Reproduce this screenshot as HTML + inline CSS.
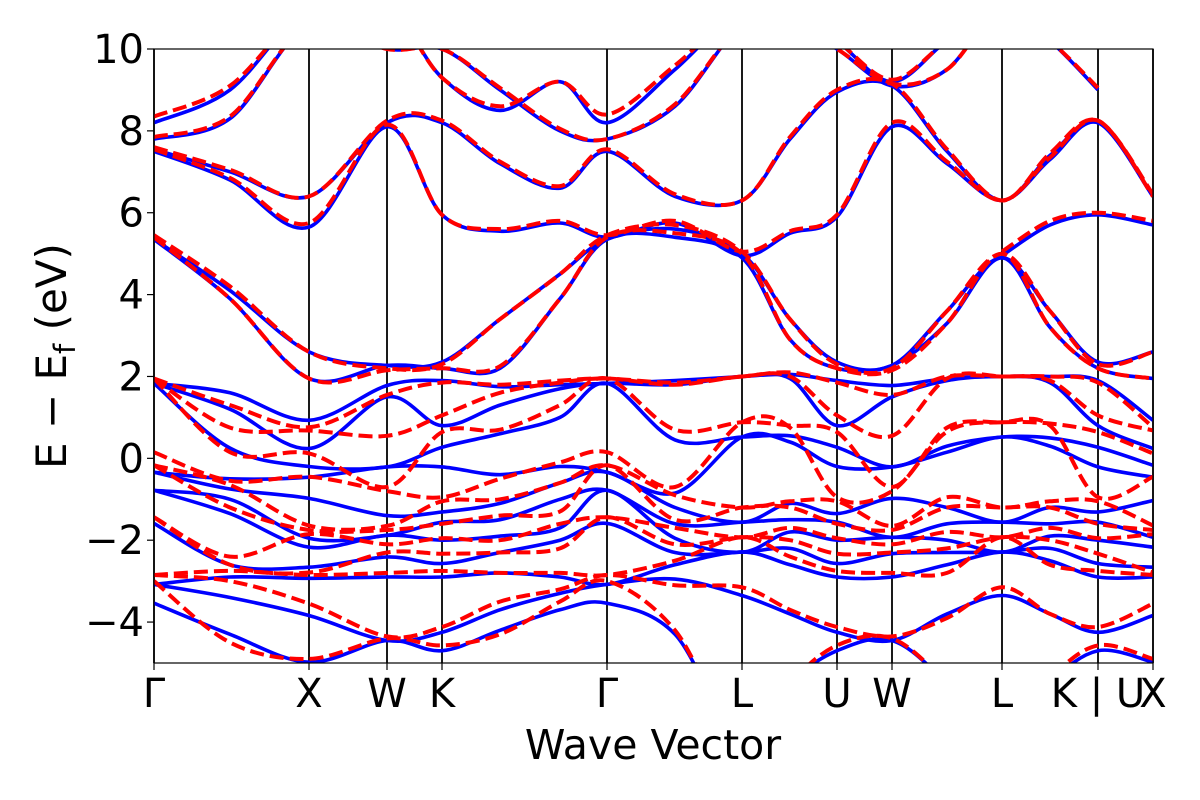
<!DOCTYPE html>
<html><head><meta charset="utf-8"><style>
html,body{margin:0;padding:0;background:#fff;}
svg{display:block;font-family:"DejaVu Sans","Liberation Sans",sans-serif;}
</style></head><body>
<svg id="chart" width="1200" height="800" viewBox="0 0 1200 800" xmlns="http://www.w3.org/2000/svg">
<defs><clipPath id="plotclip"><rect x="154" y="49" width="999" height="614"/></clipPath></defs>
<rect x="0" y="0" width="1200" height="800" fill="#fff"/>
<g id="vlines"></g>
<g id="bands" clip-path="url(#plotclip)"></g>
<rect x="154" y="49" width="999" height="614" fill="none" stroke="#000" stroke-width="1.2"/>
<g id="yaxis"></g>
<g id="xaxis"></g>
<text x="653" y="759" font-size="41" text-anchor="middle">Wave Vector</text>
<text transform="translate(66,356) rotate(-90)" font-size="42" text-anchor="middle">E − E<tspan font-size="29" dy="9">f</tspan><tspan dy="-9"> (eV)</tspan></text>
</svg>
<script>
// k-path sample positions (path units)
const kGrid = [0,0.76,1.55,2.33,2.88,3.46,4.06,4.53,5.21,5.88,6.36,6.83,7.38,7.93,8.48,8.96,9.44,9.99];
const tickK = [0,1.55,2.33,2.88,4.53,5.88,6.83,7.38,8.48,9.44,9.99];
const tickLabels = ["Γ","X","W","K","Γ","L","U","W","L","K | U","X"];
const yTicks = [-4,-2,0,2,4,6,8,10];
// per-k-point energy levels (sorted, eV) for low-lying blue bands
const blueLow = [
 [5.35,5.35,1.83,1.83,1.83,-0.34,-0.34,-0.78,-0.78,-1.59,-3.08,-3.08,-3.54],
 [4.1,3.9,1.6,1.2,0.25,-0.5,-0.75,-1.0,-1.35,-2.6,-2.9,-3.4,-4.3],
 [2.6,1.95,0.93,0.24,-0.2,-0.46,-0.98,-1.95,-2.17,-2.66,-2.93,-3.84,-4.98],
 [2.27,2.27,1.78,1.5,-0.21,-0.21,-1.4,-1.88,-1.88,-2.41,-2.9,-4.45,-4.45],
 [2.35,2.2,1.9,0.8,0.27,-0.21,-1.31,-1.56,-2.0,-2.57,-2.9,-4.25,-4.7],
 [3.4,2.2,1.75,1.3,0.6,-0.4,-1.1,-1.5,-1.9,-2.3,-2.8,-3.7,-4.2],
 [4.5,3.9,1.8,1.7,1.0,-0.2,-0.6,-1.0,-1.7,-2.0,-2.9,-3.3,-3.7],
 [5.35,5.35,1.83,1.83,1.83,-0.34,-0.34,-0.78,-0.78,-1.59,-3.08,-3.08,-3.54],
 [5.6,5.4,1.9,1.8,0.45,-0.85,-1.2,-1.6,-1.95,-2.3,-2.6,-2.95,-4.3],
 [5.0,4.9,2.0,2.0,0.52,0.52,-1.56,-1.56,-2.29,-2.29,-2.29,-3.35,-7],
 [3.4,2.9,2.05,1.95,0.55,0.4,-1.1,-1.5,-1.8,-2.2,-2.6,-3.8,-5.5],
 [2.35,2.2,1.9,0.8,0.27,-0.2,-1.35,-1.56,-2.0,-2.57,-2.9,-4.25,-4.7],
 [2.27,2.27,1.78,1.5,-0.21,-0.21,-0.98,-1.93,-1.93,-2.33,-2.9,-4.45,-4.45],
 [3.6,3.3,1.95,1.9,0.3,0.15,-1.2,-1.6,-2.0,-2.3,-2.6,-3.8,-5.5],
 [4.9,4.9,2.0,2.0,0.52,0.52,-1.56,-1.56,-2.29,-2.29,-2.29,-3.35,-7],
 [3.6,3.2,2.0,1.85,0.5,0.3,-1.2,-1.6,-1.9,-2.2,-2.5,-3.8,-5.5],
 [2.35,2.2,1.9,0.8,0.27,-0.21,-1.31,-1.56,-2.0,-2.57,-2.9,-4.25,-4.7],
 [2.6,1.95,0.93,0.24,-0.17,-0.46,-1.03,-1.93,-2.17,-2.66,-2.9,-3.84,-4.98]
];
const redLow = [
 [5.45,5.4,1.95,1.95,1.95,0.15,-0.17,-0.17,-1.44,-1.44,-2.85,-2.85,-3.0],
 [4.2,3.9,1.3,0.75,0.15,-0.55,-0.65,-1.2,-2.4,-2.6,-2.75,-3.0,-4.5],
 [2.6,1.95,0.76,0.68,0.12,-0.45,-1.64,-1.75,-1.85,-2.79,-2.85,-3.55,-4.9],
 [2.2,2.15,1.55,0.55,-0.7,-0.8,-1.65,-1.75,-2.1,-2.3,-2.8,-4.35,-4.4],
 [2.3,2.2,1.85,1.05,0.64,-0.95,-1.05,-1.6,-1.95,-2.33,-2.75,-4.12,-4.57],
 [3.4,2.25,1.8,1.6,0.7,-0.5,-1.0,-1.4,-2.0,-2.3,-2.8,-3.5,-4.3],
 [4.5,3.9,1.9,1.85,1.3,-0.1,-0.6,-1.3,-1.6,-2.2,-2.8,-3.2,-3.5],
 [5.45,5.4,1.95,1.95,1.95,0.15,-0.17,-0.17,-1.44,-1.44,-2.85,-2.85,-3.0],
 [5.7,5.5,1.85,1.8,0.7,-0.7,-0.9,-1.5,-1.7,-2.1,-2.5,-3.1,-4.2],
 [5.05,5.0,2.0,2.0,0.88,0.88,-1.2,-1.2,-1.93,-1.93,-1.93,-3.15,-7],
 [3.4,2.9,2.1,2.0,0.8,0.75,-1.05,-1.2,-1.7,-2.0,-2.4,-3.7,-5.5],
 [2.3,2.2,1.85,1.05,0.64,-0.95,-1.05,-1.6,-1.95,-2.33,-2.75,-4.12,-4.57],
 [2.2,2.15,1.55,0.55,-0.7,-0.8,-1.65,-1.75,-2.1,-2.3,-2.8,-4.35,-4.4],
 [3.6,3.3,2.0,1.95,0.75,0.65,-0.95,-1.2,-1.8,-2.2,-2.8,-3.9,-5.5],
 [5.0,5.0,2.0,2.0,0.88,0.88,-1.2,-1.2,-1.93,-1.93,-1.93,-3.15,-7],
 [3.6,3.2,2.0,1.9,0.85,0.8,-1.05,-1.2,-1.7,-2.0,-2.6,-3.8,-5.4],
 [2.3,2.2,1.85,1.05,0.64,-0.95,-1.05,-1.6,-1.95,-2.33,-2.75,-4.12,-4.57],
 [2.6,1.95,0.76,0.68,0.12,-0.45,-1.64,-1.75,-1.85,-2.79,-2.85,-3.55,-4.9]
];
// upper conduction bands (per band, along kGrid; null = not shown)
const blueUp1 = [7.5,6.8,5.65,8.1,5.95,5.55,5.75,5.4,5.75,4.95,5.5,5.9,8.1,7.2,6.3,7.3,8.2,6.4];
const blueUp2 = [7.55,7.0,6.4,8.2,8.2,7.2,6.6,7.5,6.4,6.3,7.8,8.95,9.1,7.5,6.3,7.4,8.2,6.4];
const blueUp3 = [7.8,8.3,10.6,10.0,10.0,9.0,8.0,7.8,8.6,10.6,10.6,10.0,9.1,9.5,11,10.2,9.0,null];
const blueUp4 = [8.2,9.0,11,11,9.3,8.5,9.2,8.2,9.5,11,11,10.2,9.2,10.2,11,10.3,null,null];
const blueUp5 = [null,null,null,null,null,null,null,null,null,null,null,null,null,null,4.95,5.7,5.95,5.7];
const redUp1 = [7.55,6.85,5.75,8.15,5.95,5.6,5.8,5.45,5.8,5.05,5.55,5.95,8.2,7.25,6.3,7.35,8.25,6.4];
const redUp2 = [7.6,7.05,6.4,8.25,8.25,7.25,6.65,7.55,6.45,6.3,7.85,9.0,9.15,7.55,6.3,7.45,8.25,6.45];
const redUp3 = [7.85,8.35,10.6,10.0,10.0,9.05,8.05,7.8,8.65,10.6,10.6,10.0,9.15,9.5,11,10.2,9.05,null];
const redUp4 = [8.35,9.1,11,11,9.3,8.6,9.2,8.4,9.6,11,11,10.2,9.25,10.2,11,10.3,null,null];
const redUp5 = [null,null,null,null,null,null,null,null,null,null,null,null,null,null,5.05,5.8,6.0,5.8];

const X0=154, X1=1153, Y0=663, Y1=49, EMIN=-5, EMAX=10, KMAX=9.99;
const xS = k => X0 + (k/KMAX)*(X1-X0);
const yS = e => Y0 - (e-EMIN)/(EMAX-EMIN)*(Y0-Y1);
const NS="http://www.w3.org/2000/svg";

function pathFor(vals){
  let d="", seg=[];
  const flush=()=>{
    if(seg.length<2){seg=[];return;}
    d+="M"+seg[0][0].toFixed(1)+","+seg[0][1].toFixed(1);
    for(let i=0;i<seg.length-1;i++){
      const p0=seg[Math.max(0,i-1)],p1=seg[i],p2=seg[i+1],p3=seg[Math.min(seg.length-1,i+2)];
      const c1x=p1[0]+(p2[0]-p0[0])/6,c1y=p1[1]+(p2[1]-p0[1])/6;
      const c2x=p2[0]-(p3[0]-p1[0])/6,c2y=p2[1]-(p3[1]-p1[1])/6;
      d+="C"+c1x.toFixed(1)+","+c1y.toFixed(1)+" "+c2x.toFixed(1)+","+c2y.toFixed(1)+" "+p2[0].toFixed(1)+","+p2[1].toFixed(1);
    }
    seg=[];
  };
  vals.forEach((v,i)=>{ if(v===null||v===undefined){flush();} else seg.push([xS(kGrid[i]),yS(v)]); });
  flush();
  return d;
}
const g=document.getElementById("bands");
function drawBand(vals,color,dashed,name){
  const p=document.createElementNS(NS,"path");
  p.setAttribute("d",pathFor(vals));
  p.setAttribute("fill","none");
  p.setAttribute("stroke",color);
  p.setAttribute("stroke-width",dashed?"4":"3.6");
  if(dashed) p.setAttribute("stroke-dasharray","14,6");
  
  
  g.appendChild(p);
}
const nLow = blueLow[0].length;
for(let b=0;b<nLow;b++) drawBand(blueLow.map(r=>r[b]),"#0000ff",false,"blue-band-"+(b+1));
[blueUp1,blueUp2,blueUp3,blueUp4,blueUp5].forEach((a,i)=>drawBand(a,"#0000ff",false,"blue-upper-band-"+(i+1)));
for(let b=0;b<nLow;b++) drawBand(redLow.map(r=>r[b]),"#ff0000",true,"red-band-"+(b+1));
[redUp1,redUp2,redUp3,redUp4,redUp5].forEach((a,i)=>drawBand(a,"#ff0000",true,"red-upper-band-"+(i+1)));

const vl=document.getElementById("vlines");
tickK.forEach((k,i)=>{
  const l=document.createElementNS(NS,"line");
  l.setAttribute("x1",xS(k));l.setAttribute("x2",xS(k));
  l.setAttribute("y1",Y1);l.setAttribute("y2",Y0);
  l.setAttribute("stroke","#000");l.setAttribute("stroke-width","1.8");
  
  
  vl.appendChild(l);
});
const ya=document.getElementById("yaxis");
yTicks.forEach(v=>{
  const t=document.createElementNS(NS,"line");
  t.setAttribute("x1",X0-7);t.setAttribute("x2",X0);
  t.setAttribute("y1",yS(v));t.setAttribute("y2",yS(v));
  t.setAttribute("stroke","#000");t.setAttribute("stroke-width","1.2");
  
  
  ya.appendChild(t);
  const tx=document.createElementNS(NS,"text");
  tx.setAttribute("x",X0-10);tx.setAttribute("y",yS(v)+14);
  tx.setAttribute("font-size","40");tx.setAttribute("text-anchor","end");
  tx.textContent=(v<0?"−":"")+Math.abs(v);
  
  
  ya.appendChild(tx);
});
const xa=document.getElementById("xaxis");
tickK.forEach((k,i)=>{
  const t=document.createElementNS(NS,"line");
  t.setAttribute("x1",xS(k));t.setAttribute("x2",xS(k));
  t.setAttribute("y1",Y0);t.setAttribute("y2",Y0+7);
  t.setAttribute("stroke","#000");t.setAttribute("stroke-width","1.2");
  
  
  xa.appendChild(t);
  const tx=document.createElementNS(NS,"text");
  tx.setAttribute("x",xS(k));tx.setAttribute("y",Y0+44);
  tx.setAttribute("font-size","40");tx.setAttribute("text-anchor","middle");
  tx.textContent=tickLabels[i];
  
  
  xa.appendChild(tx);
});
</script>
</body></html>
